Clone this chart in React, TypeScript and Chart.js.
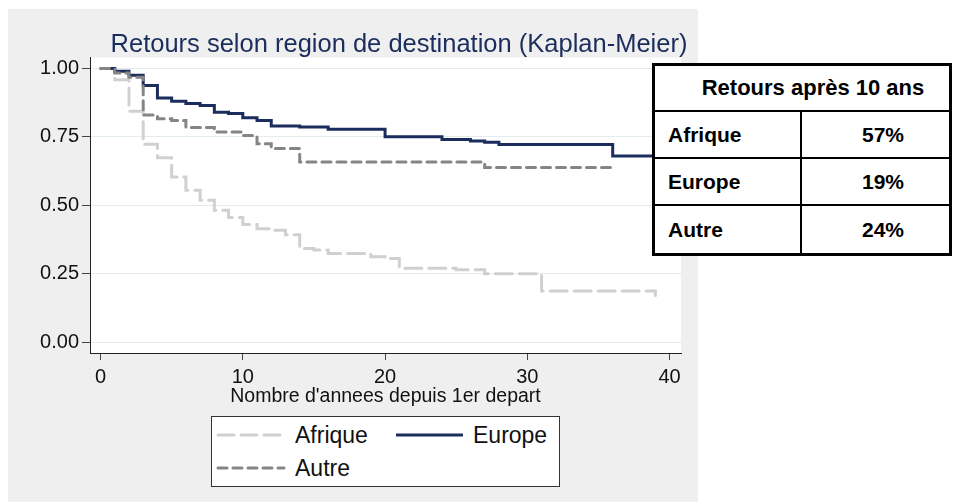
import React, { useEffect, useRef } from 'react';
import { Chart, registerables } from 'chart.js';

Chart.register(...registerables);

const FONT = '"Liberation Sans", Arial, Helvetica, sans-serif';

// Kaplan-Meier survival estimates (time in years, survival proportion)
const afriqueYears = [0, 1, 2, 3, 4, 5, 6, 7, 8, 9, 10, 11, 12, 13, 14, 15, 16, 19, 20, 21, 25, 27, 31, 39];
const afriqueSurv = [1.0, 0.959, 0.844, 0.723, 0.674, 0.603, 0.555, 0.518, 0.482, 0.455, 0.43, 0.414, 0.409, 0.392, 0.342, 0.336, 0.324, 0.312, 0.305, 0.27, 0.264, 0.25, 0.187, 0.17];

const europeYears = [0, 1, 2, 3, 4, 5, 6, 7, 8, 9, 10, 11, 12, 14, 16, 20, 24, 26, 27, 28, 36, 39];
const europeSurv = [1.0, 0.99, 0.975, 0.938, 0.892, 0.88, 0.872, 0.865, 0.84, 0.835, 0.82, 0.81, 0.79, 0.786, 0.778, 0.75, 0.74, 0.735, 0.73, 0.722, 0.68, 0.68];

const autreYears = [0, 1, 2, 3, 4, 5, 6, 8, 10, 11, 12, 14, 27, 36];
const autreSurv = [1.0, 0.983, 0.968, 0.83, 0.816, 0.81, 0.784, 0.768, 0.755, 0.725, 0.707, 0.658, 0.638, 0.638];

const seriesNames = ['Afrique', 'Europe', 'Autre'];
const xTicks = [0, 10, 20, 30, 40];
const yTicks = [0, 0.25, 0.5, 0.75, 1];

const chartTitle = 'Retours selon region de destination (Kaplan-Meier)';
const xTitle = "Nombre d'annees depuis 1er depart";

const tableTitle = 'Retours après 10 ans';
const tableLabels = ['Afrique', 'Europe', 'Autre'];
const tableValues = ['57%', '19%', '24%'];

const NAVY = '#1b2d5c';
const LIGHT = '#d0d0d0';
const MID = '#858585';

const toPoints = (xs: number[], ys: number[]) => xs.map((x, i) => ({ x, y: ys[i] }));

const plotBg = {
  id: 'plotBg',
  beforeDraw(chart: any) {
    const { ctx, chartArea } = chart;
    ctx.save();
    ctx.fillStyle = '#ffffff';
    ctx.fillRect(chartArea.left, chartArea.top, chartArea.right - chartArea.left, chartArea.bottom - chartArea.top);
    ctx.restore();
  },
};

function LegendSample({ color, dash, width }: { color: string; dash?: string; width: number }) {
  return (
    <svg width={width} height={8} style={{ display: 'block' }}>
      <line
        x1={2}
        y1={4}
        x2={width - 2}
        y2={4}
        stroke={color}
        strokeWidth={3}
        strokeDasharray={dash}
        strokeLinecap={dash ? 'round' : 'butt'}
      />
    </svg>
  );
}

export default function App() {
  const canvasRef = useRef<HTMLCanvasElement | null>(null);

  useEffect(() => {
    const canvas = canvasRef.current;
    if (!canvas) return;
    const chart = new Chart(canvas, {
      type: 'line',
      data: {
        datasets: [
          {
            label: seriesNames[0],
            data: toPoints(afriqueYears, afriqueSurv),
            borderColor: LIGHT,
            borderWidth: 3,
            borderDash: [17, 7],
            borderCapStyle: 'round',
            stepped: 'before',
            pointRadius: 0,
            fill: false,
            order: 2,
          },
          {
            label: seriesNames[1],
            data: toPoints(europeYears, europeSurv),
            borderColor: NAVY,
            borderWidth: 3,
            stepped: 'before',
            pointRadius: 0,
            fill: false,
            order: 1,
          },
          {
            label: seriesNames[2],
            data: toPoints(autreYears, autreSurv),
            borderColor: MID,
            borderWidth: 3,
            borderDash: [9, 6],
            borderCapStyle: 'round',
            stepped: 'before',
            pointRadius: 0,
            fill: false,
            order: 0,
          },
        ],
      },
      options: {
        responsive: false,
        animation: false,
        devicePixelRatio: 1,
        layout: { padding: { left: 0, top: 0, right: 0, bottom: 89 } },
        plugins: {
          legend: { display: false },
          tooltip: { enabled: false },
          title: {
            display: true,
            text: chartTitle,
            color: NAVY,
            font: { family: FONT, size: 25.5, weight: 'normal', lineHeight: 1 },
            padding: { top: 23, bottom: 0 },
          },
        },
        scales: {
          x: {
            type: 'linear',
            min: -0.74,
            max: 40.8,
            afterBuildTicks: (s: any) => {
              s.ticks = xTicks.map((v) => ({ value: v }));
            },
            afterFit: (s: any) => {
              s.height = 60;
            },
            grid: { drawOnChartArea: false, drawTicks: true, tickLength: 7, tickColor: '#444', color: '#444' },
            border: { display: true, color: '#222', width: 1 },
            ticks: {
              font: { family: FONT, size: 20 },
              color: '#111',
              padding: 5,
              maxRotation: 0,
              autoSkip: false,
            },
            title: {
              display: true,
              text: xTitle,
              color: '#111',
              font: { family: FONT, size: 19.5 },
              padding: { top: 0, bottom: 5 },
            },
          },
          y: {
            type: 'linear',
            position: 'left',
            min: -0.04,
            max: 1.04,
            afterBuildTicks: (s: any) => {
              s.ticks = yTicks.map((v) => ({ value: v }));
            },
            afterFit: (s: any) => {
              s.width = 82;
            },
            grid: { color: '#e2ebee', lineWidth: 1, drawTicks: true, tickLength: 8, tickColor: '#444' },
            border: { display: true, color: '#222', width: 1 },
            ticks: {
              font: { family: FONT, size: 20 },
              color: '#111',
              padding: 3,
              callback: (v: any) => Number(v).toFixed(2),
            },
          },
          yr: {
            type: 'linear',
            position: 'right',
            display: true,
            min: 0,
            max: 1,
            grid: { display: false, drawTicks: false },
            border: { display: false },
            ticks: { display: false },
            afterFit: (s: any) => {
              s.width = 109;
            },
          },
        },
      },
      plugins: [plotBg],
    } as any);
    return () => chart.destroy();
  }, []);

  const legendText: React.CSSProperties = {
    position: 'absolute',
    fontSize: 23,
    lineHeight: '23px',
    color: '#111',
    whiteSpace: 'nowrap',
  };

  const cellText: React.CSSProperties = {
    position: 'absolute',
    fontSize: 21,
    lineHeight: '21px',
    fontWeight: 'bold',
    color: '#000',
    whiteSpace: 'nowrap',
  };

  const rowCenters = [68.5, 115.5, 163.5];

  return (
    <div
      style={{
        position: 'fixed',
        left: 0,
        top: 0,
        width: 955,
        height: 502,
        background: '#ffffff',
        overflow: 'hidden',
        fontFamily: FONT,
      }}
    >
      <div style={{ position: 'absolute', left: 8, top: 9, width: 690, height: 493, background: '#efefef' }} />
      <canvas ref={canvasRef} width={782} height={493} style={{ position: 'absolute', left: 8, top: 9 }} />

      {/* legend */}
      <div
        style={{
          position: 'absolute',
          left: 211,
          top: 416,
          width: 349,
          height: 71,
          boxSizing: 'border-box',
          border: '1px solid #333',
          background: '#ffffff',
        }}
      >
        <div style={{ position: 'absolute', left: 4, top: 14 }}>
          <LegendSample color={LIGHT} dash="16 7" width={70} />
        </div>
        <div style={{ ...legendText, left: 83, top: 7 }}>{seriesNames[0]}</div>
        <div style={{ position: 'absolute', left: 182, top: 14 }}>
          <LegendSample color={NAVY} width={71} />
        </div>
        <div style={{ ...legendText, left: 261, top: 7 }}>{seriesNames[1]}</div>
        <div style={{ position: 'absolute', left: 4, top: 47 }}>
          <LegendSample color={MID} dash="9 6" width={70} />
        </div>
        <div style={{ ...legendText, left: 83, top: 40 }}>{seriesNames[2]}</div>
      </div>

      {/* table */}
      <div
        style={{
          position: 'absolute',
          left: 652,
          top: 63,
          width: 300,
          height: 193,
          boxSizing: 'border-box',
          border: '3px solid #000',
          background: '#ffffff',
        }}
      >
        <div style={{ ...cellText, fontSize: 22, lineHeight: '22px', left: 0, width: 294, top: 11, textAlign: 'center', paddingLeft: 22, boxSizing: 'border-box' }}>
          {tableTitle}
        </div>
        <div style={{ position: 'absolute', left: 0, top: 44, width: 294, height: 2, background: '#000' }} />
        <div style={{ position: 'absolute', left: 0, top: 91, width: 294, height: 2, background: '#000' }} />
        <div style={{ position: 'absolute', left: 0, top: 138, width: 294, height: 2, background: '#000' }} />
        <div style={{ position: 'absolute', left: 145, top: 46, width: 2, height: 141, background: '#000' }} />
        {tableLabels.map((lab, i) => (
          <React.Fragment key={lab}>
            <div style={{ ...cellText, left: 13, top: rowCenters[i] - 10.5 }}>{lab}</div>
            <div
              style={{
                ...cellText,
                left: 147,
                width: 147,
                top: rowCenters[i] - 10.5,
                textAlign: 'center',
                paddingLeft: 15,
                boxSizing: 'border-box',
              }}
            >
              {tableValues[i]}
            </div>
          </React.Fragment>
        ))}
      </div>
    </div>
  );
}
